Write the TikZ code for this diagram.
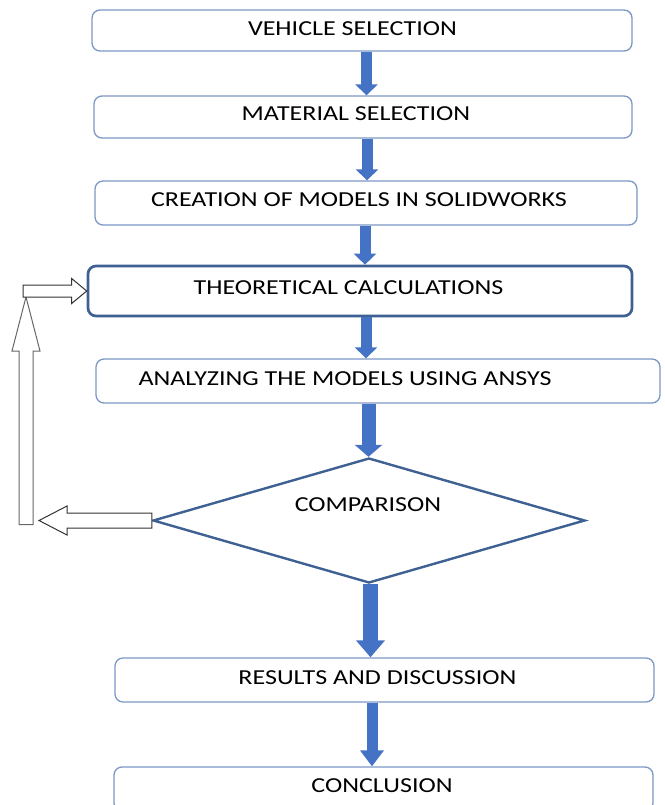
\documentclass[tikz,border=0pt]{standalone}
\usepackage{fontspec}
\setmainfont{Carlito}
\usetikzlibrary{arrows.meta,shapes.geometric,calc}

\definecolor{boxline}{RGB}{124,152,196}
\definecolor{darkline}{RGB}{62,96,146}
\definecolor{flowblue}{RGB}{68,114,196}

\newcommand\wide[1]{\scalebox{1.22}[1]{#1}}

\tikzset{every picture/.style={line width=0.75pt}}
\tikzset{
  stepbox/.style={draw=boxline, line width=1pt, rounded corners=6pt, fill=white, inner sep=0pt},
  lbl/.style={font=\fontsize{16}{19}\selectfont, inner sep=0pt},
  flow/.style={draw=flowblue, line width=8.25pt, -{Triangle[width=16.5pt,length=8.25pt]}, flowblue},
  hollow/.style={draw=black!80, line width=0.75pt, fill=white, line join=miter}
}

\begin{document}
\begin{tikzpicture}[x=0.75pt,y=0.75pt,yscale=-1,xscale=1]
		\useasboundingbox (0,0) rectangle (664,805);
		\clip (0,0) rectangle (664,805);

		%Shape: Rounded Rect
		\node [stepbox, minimum width=405pt, minimum height=30.75pt] (veh) at (362,30.5) {};
		%Shape: Rounded Rect
		\node [stepbox, minimum width=403.5pt, minimum height=31.5pt] (mat) at (363,117) {};
		%Shape: Rounded Rect
		\node [stepbox, minimum width=406.5pt, minimum height=33pt] (cre) at (366,203) {};
		%Shape: Rounded Rect (thick)
		\node [stepbox, draw=darkline, line width=2pt, minimum width=408pt, minimum height=37.5pt] (theo) at (360,291) {};
		%Shape: Rounded Rect
		\node [stepbox, minimum width=423pt, minimum height=33pt] (anl) at (378,381) {};
		%Shape: Diamond
		\node [diamond, draw=darkline, line width=1.8pt, fill=white, inner sep=0pt, minimum width=324pt, minimum height=93.75pt] (cmp) at (369,520.5) {};
		%Shape: Rounded Rect
		\node [stepbox, minimum width=404.25pt, minimum height=33pt] (res) at (384.5,680) {};
		%Shape: Rounded Rect
		\node [stepbox, minimum width=404.25pt, minimum height=33pt] (con) at (383.5,789) {};

		%Block Arrows
		\draw [flow] (366.5,0 |- veh.south) -- (366.5,0 |- mat.north);
		\draw [flow] (367,0 |- mat.south) -- (367,0 |- cre.north);
		\draw [flow] (365,0 |- cre.south) -- (365,0 |- theo.north);
		\draw [flow] (366,0 |- theo.south) -- (366,0 |- anl.north);
		\draw [flow, line width=10.5pt, -{Triangle[width=20.25pt,length=9pt]}] (368.5,0 |- anl.south) -- (368.5,0 |- cmp.north);
		\draw [flow, line width=11.25pt, -{Triangle[width=21pt,length=12.75pt]}] (370.5,0 |- cmp.south) -- (370.5,0 |- res.north);
		\draw [flow, -{Triangle[width=17.25pt,length=12pt]}] (372,0 |- res.south) -- (372,0 |- con.north);

		%Loop back corners
		\coordinate (turnB) at (26,0 |- cmp.west);
		\coordinate (turnT) at (26,0 |- theo.west);

		%Hollow Arrow: up
		\draw [hollow, draw=black!60] ($(turnB)+(-7,4)$) -- ($(turnT)+(-7,60)$) -- ($(turnT)+(-14,60)$) -- ($(turnT)+(0,6)$) -- ($(turnT)+(14,60)$) -- ($(turnT)+(7,60)$) -- ($(turnB)+(7,4)$) -- cycle ;
		%Hollow Arrow: left
		\draw [hollow] ($(cmp.west)+(0,-7.5)$) -- ($(turnB)+(41,-7.5)$) -- ($(turnB)+(41,-14.5)$) -- ($(turnB)+(13,0)$) -- ($(turnB)+(41,14.5)$) -- ($(turnB)+(41,7.5)$) -- ($(cmp.west)+(0,7.5)$) -- cycle ;
		%Hollow Arrow: right
		\draw [hollow] ($(turnT)+(-3,-6)$) -- ($(theo.west)+(-15,-6)$) -- ($(theo.west)+(-15,-12.5)$) -- (theo.west) -- ($(theo.west)+(-15,12.5)$) -- ($(theo.west)+(-15,6)$) -- ($(turnT)+(-3,6)$) -- cycle ;

		% Text Node
		\node [lbl] (tveh) at (352.5,29) {\wide{VEHICLE SELECTION}};
		% Text Node
		\node [lbl] (tmat) at (356,114) {\wide{MATERIAL SELECTION}};
		% Text Node
		\node [lbl] (tcre) at (359,200) {\wide{CREATION OF MODELS IN SOLIDWORKS}};
		% Text Node
		\node [lbl] (ttheo) at (348.5,288) {\wide{THEORETICAL CALCULATIONS}};
		% Text Node
		\node [lbl] (tanl) at (345,379) {\wide{ANALYZING THE MODELS USING ANSYS}};
		% Text Node
		\node [lbl] (tcmp) at (368,505) {\wide{COMPARISON}};
		% Text Node
		\node [lbl] (tres) at (377.5,678) {\wide{RESULTS AND DISCUSSION}};
		% Text Node
		\node [lbl] (tcon) at (382,786) {\wide{CONCLUSION}};

\end{tikzpicture}
\end{document}
